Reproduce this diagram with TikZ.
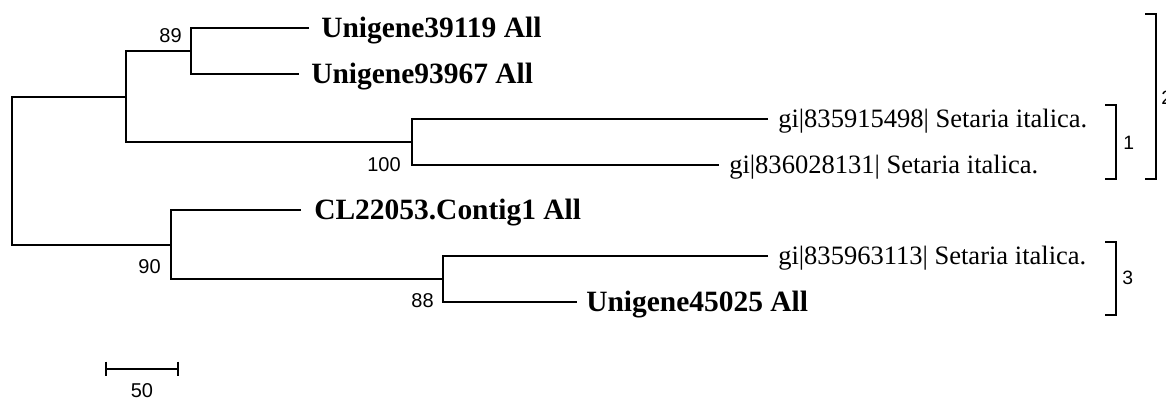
\documentclass[tikz,border=0pt]{standalone}
\usepackage{fontspec}
\setmainfont{Liberation Serif}
\setsansfont{Liberation Sans}
\begin{document}
\begin{tikzpicture}[x=0.75pt,y=-0.75pt,
  branch/.style={line width=1.6pt, line join=miter},
  leafb/.style={anchor=west, inner ysep=0pt, text height=14.6pt, text depth=0pt,
    font=\fontsize{22.1pt}{24pt}\selectfont\bfseries},
  leafr/.style={anchor=west, inner ysep=0pt, text height=13.4pt, text depth=0pt,
    font=\fontsize{19.9pt}{22pt}\selectfont},
  boot/.style={anchor=east, inner sep=0pt, font=\sffamily\fontsize{15pt}{17pt}\selectfont},
  grp/.style={anchor=west, inner sep=0pt, font=\sffamily\fontsize{14.5pt}{16pt}\selectfont},
  bracket/.style={line width=1.5pt}]
\useasboundingbox (0,0) rectangle (1166,401);
% internal nodes
\coordinate (root) at (12,171);
\coordinate (nA) at (126,97);
\coordinate (n89) at (191,51);
\coordinate (n100) at (412,142);
\coordinate (n90) at (171,245);
\coordinate (n88) at (443,279);
% leaves
\node[leafb, inner xsep=9pt] (t1) at (309,28) {Unigene39119 All};
\node[leafb, inner xsep=9pt] (t2) at (299,74) {Unigene93967 All};
\node[leafr, inner xsep=7.5pt] (t3) at (768,119) {gi|835915498| Setaria italica.};
\node[leafr, inner xsep=7.5pt] (t4) at (719,165) {gi|836028131| Setaria italica.};
\node[leafb, inner xsep=9.75pt] (t5) at (301,210) {CL22053.Contig1 All};
\node[leafr, inner xsep=7.5pt] (t6) at (768,256) {gi|835963113| Setaria italica.};
\node[leafb, inner xsep=6.75pt] (t7) at (577,302) {Unigene45025 All};
% branches
\draw[branch] (t1.west) -| (n89) |- (t2.west);
\draw[branch] (t3.west) -| (n100) |- (t4.west);
\draw[branch] (n89) -| (nA) |- (n100);
\draw[branch] (t6.west) -| (n88) |- (t7.west);
\draw[branch] (t5.west) -| (n90) |- (n88);
\draw[branch] (nA) -| (root) |- (n90);
% bootstrap values
\node[boot] (b89) at (182,36) {89};
\node[boot] (b100) at (401,165) {100};
\node[boot] (b90) at (161,267) {90};
\node[boot] (b88) at (434,301) {88};
% scale bar
\coordinate (s1) at (106,369);
\coordinate (s2) at (178,369);
\draw[line width=1.3pt] (s1) -- (s2);
\draw[line width=1.3pt] ([yshift=5.5pt]s1) -- ([yshift=-5.5pt]s1);
\draw[line width=1.3pt] ([yshift=5.5pt]s2) -- ([yshift=-5.5pt]s2);
\node[inner sep=0pt, font=\sffamily\fontsize{15pt}{17pt}\selectfont] (sl) at (142,391) {50};
% group brackets
\coordinate (g1t) at (1116,105); \coordinate (g1b) at (1116,179);
\coordinate (g2t) at (1156,14);  \coordinate (g2b) at (1156,179);
\coordinate (g3t) at (1116,242); \coordinate (g3b) at (1116,315);
\draw[bracket] ([xshift=-8.25pt]g1t) -- (g1t) -- (g1b) -- ([xshift=-8.25pt]g1b);
\draw[bracket] ([xshift=-8.25pt]g2t) -- (g2t) -- (g2b) -- ([xshift=-8.25pt]g2b);
\draw[bracket] ([xshift=-8.25pt]g3t) -- (g3t) -- (g3b) -- ([xshift=-8.25pt]g3b);
\node[grp] (l1) at (1123,143) {1};
\node[grp] (l2) at (1161,98) {2};
\node[grp] (l3) at (1122,278) {3};
\end{tikzpicture}
\end{document}
